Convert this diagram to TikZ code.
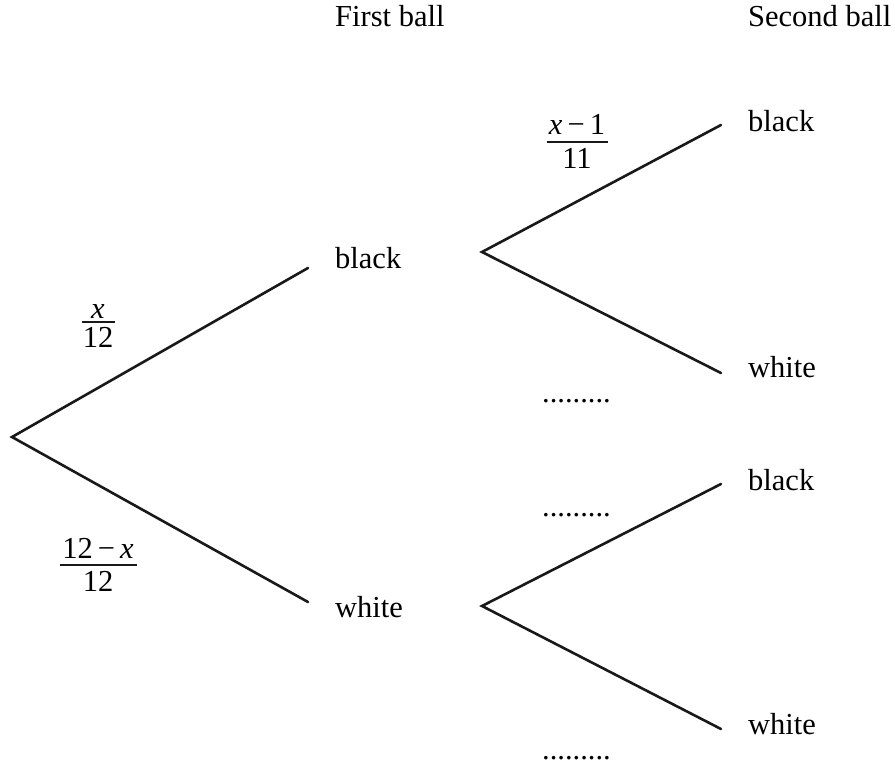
\documentclass[tikz,border=0pt]{standalone}
\usepackage{fontspec}
\setmainfont{Liberation Serif}
\begin{document}
\begin{tikzpicture}[x=1pt,y=-1pt,
  branch/.style={line width=2.6pt, line cap=round, black!90},
  lbl/.style={inner sep=0pt, anchor=base west, font=\fontsize{30.5}{36}\selectfont},
  ftxt/.style={inner sep=0pt, anchor=base, font=\fontsize{30.5}{36}\selectfont},
  fbar/.style={line width=2.2pt, black!90}]
\useasboundingbox (0,0) rectangle (895,765);
% headers
\node[lbl] (h1) at (335,27) {First ball};
\node[lbl] (h2) at (748,27) {Second ball};
% branch points
\coordinate (r) at (12,437);
\coordinate (b1) at (308,268);
\coordinate (w1) at (308,602);
\coordinate (b1s) at (482,252);
\coordinate (w1s) at (482,606);
\coordinate (bb) at (721,125);
\coordinate (bw) at (721,373);
\coordinate (wb) at (721,484);
\coordinate (ww) at (721,729);
% connectors
\draw[branch] (b1) -- (r) -- (w1);
\draw[branch] (bb) -- (b1s) -- (bw);
\draw[branch] (wb) -- (w1s) -- (ww);
% outcome labels
\node[lbl] (lb1) at (335,268) {black};
\node[lbl] (lw1) at (335,617) {white};
\node[lbl] (lbb) at (748,132) {black};
\node[lbl] (lbw) at (748,377) {white};
\node[lbl] (lwb) at (748,490) {black};
\node[lbl] (lww) at (748,734) {white};
% dotted blanks
\node[lbl] (d1) at (542,402) {.........};
\node[lbl] (d2) at (542,516) {.........};
\node[lbl] (d3) at (542,759) {.........};
% fraction x/12
\node[ftxt] (f1n) at (98,318) {\textit{x}};
\node[ftxt] (f1d) at (98,347) {12};
\draw[fbar] (82,322) -- (115,322);
% fraction (12-x)/12
\node[ftxt] (f2n) at (98,558) {12\,−\,\textit{x}};
\node[ftxt] (f2d) at (98,591) {12};
\draw[fbar] (60,565) -- (137,565);
% fraction (x-1)/11
\node[ftxt] (f3n) at (577,135) {\textit{x}\,−\,1};
\node[ftxt] (f3d) at (577,169) {11};
\draw[fbar] (547,142) -- (608,142);
\end{tikzpicture}
\end{document}
